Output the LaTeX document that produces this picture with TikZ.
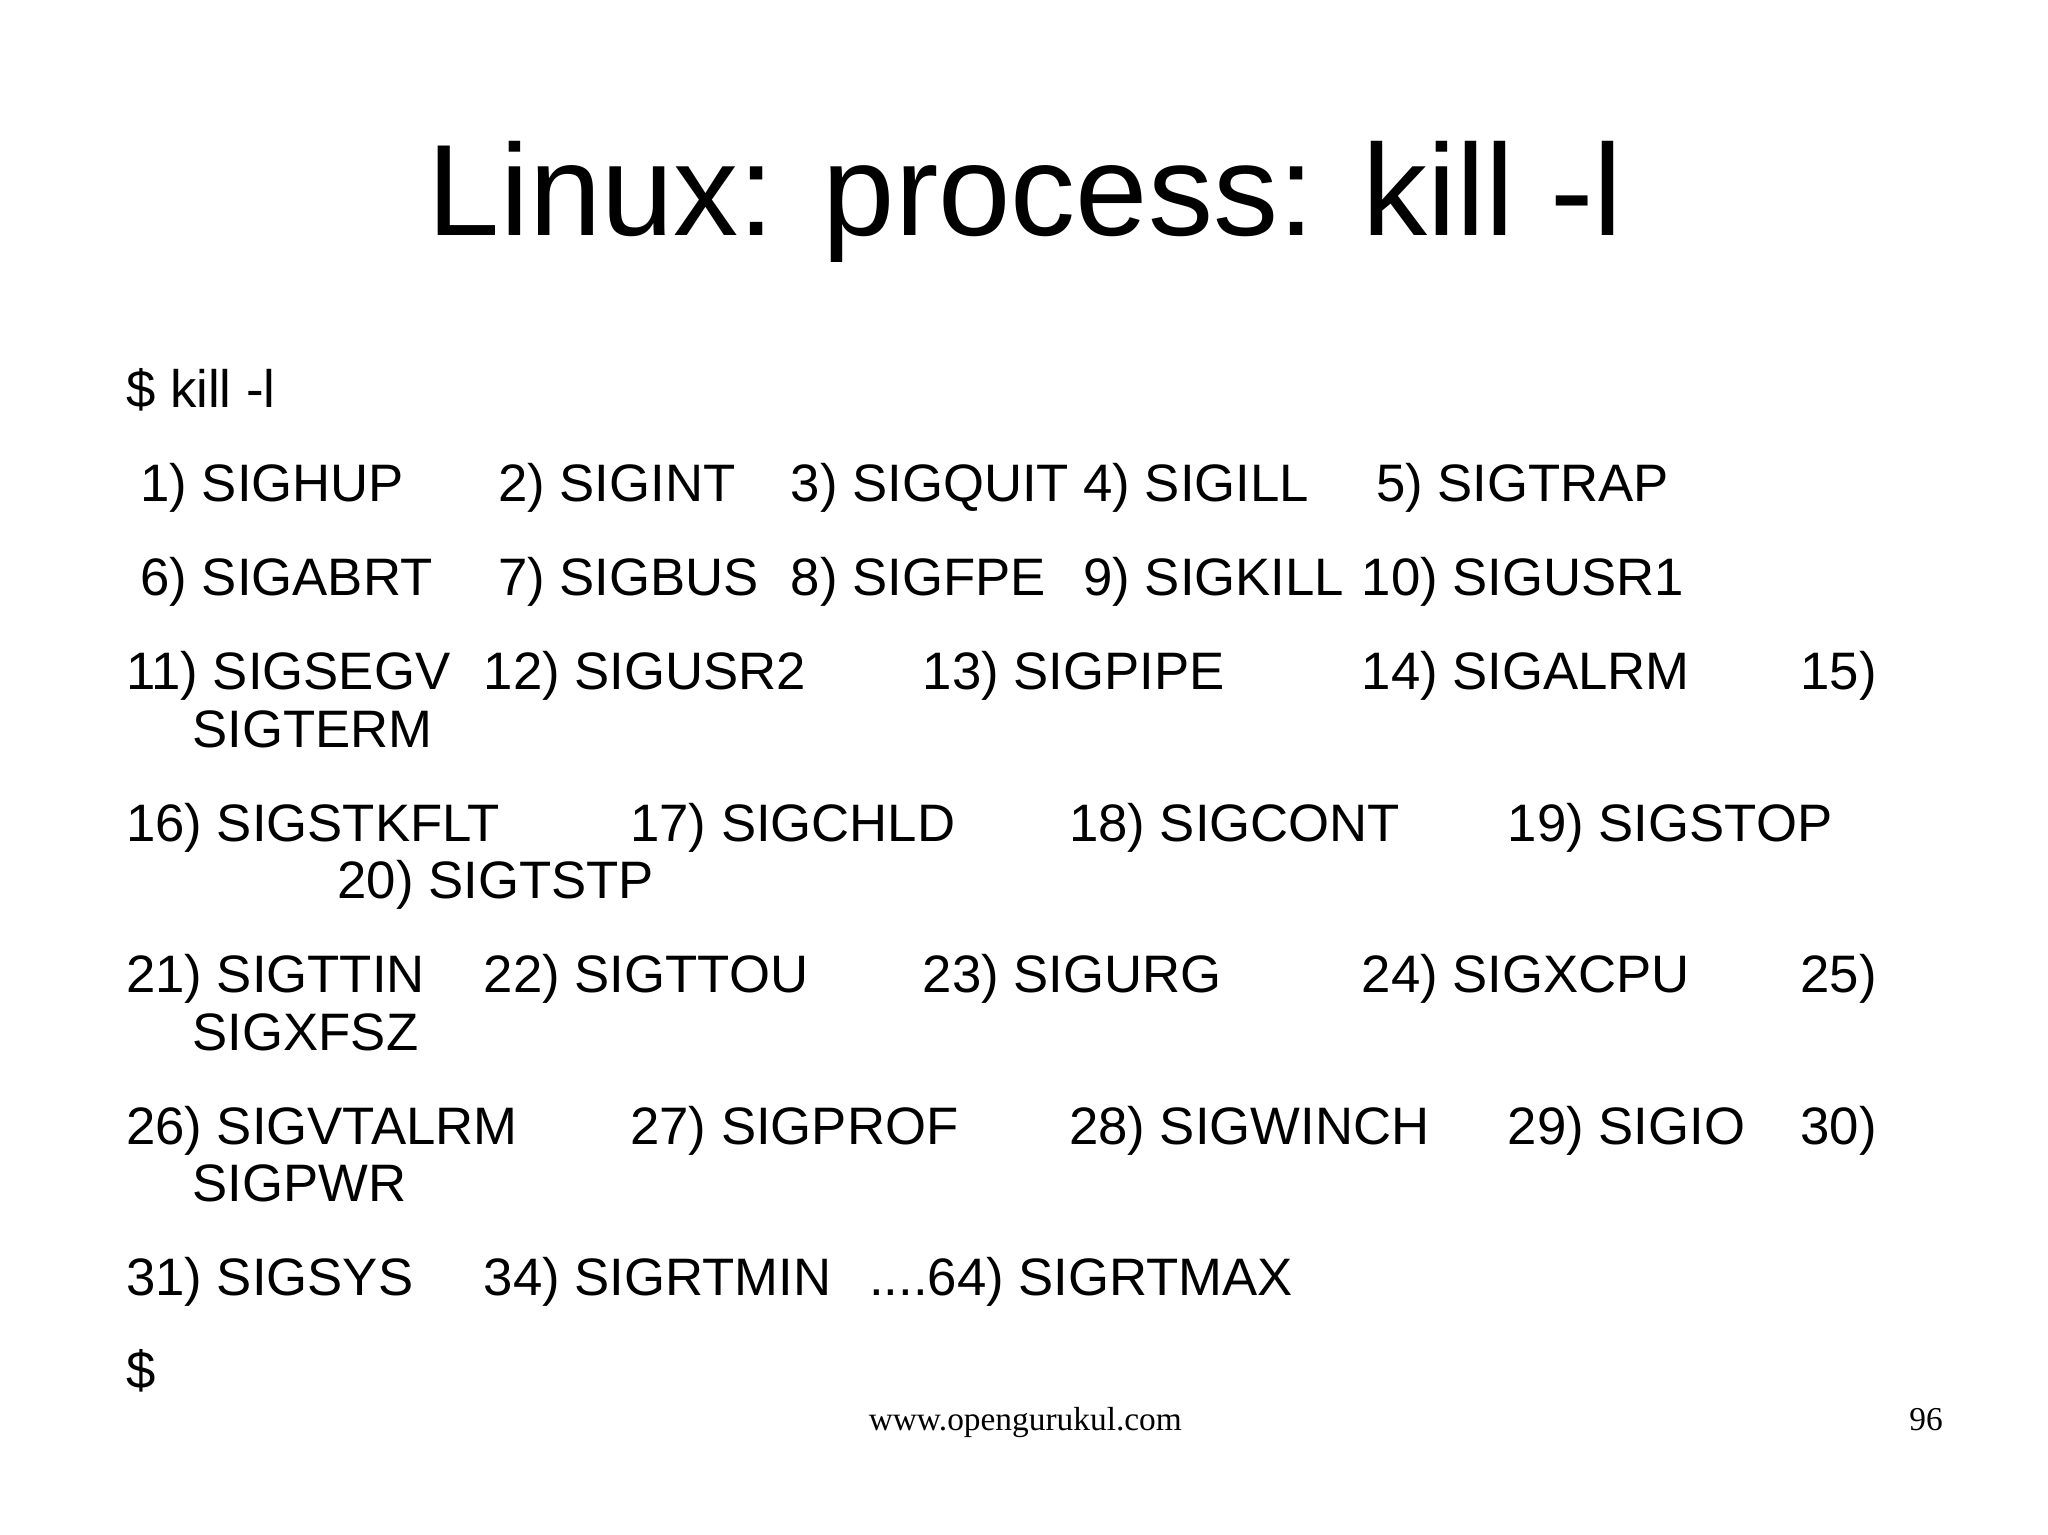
\documentclass[tikz,border=0pt]{standalone}
\usepackage{fontspec}
\setmainfont{Liberation Sans}
\newfontfamily\footfont{Liberation Serif}
\begin{document}
\begin{tikzpicture}[x=0.01306cm,y=-0.01306cm,
  tx/.style={anchor=base west,inner sep=0pt,font=\fontsize{15}{18}\selectfont},
  ttl/.style={anchor=base,inner sep=0pt,font=\fontsize{37}{44}\selectfont},
  ft/.style={inner sep=0pt,font=\footfont\fontsize{9.5}{11}\selectfont}]
\useasboundingbox[fill=white] (0,0) rectangle (1568,1175);
\node[ttl] (title) at (785,180) {Linux: process: kill -l};
\node[tx] (cmd) at (96,312) {\$ kill -l};
\foreach \x/\t [count=\i] in {107/1) SIGHUP,381/2) SIGINT,605/3) SIGQUIT,829/4) SIGILL,1053/5) SIGTRAP}
  \node[tx] (ra\i) at (\x,384) {\t};
\foreach \x/\t [count=\i] in {107/6) SIGABRT,381/7) SIGBUS,605/8) SIGFPE,829/9) SIGKILL,1042/10) SIGUSR1}
  \node[tx] (rb\i) at (\x,456) {\t};
\foreach \x/\t [count=\i] in {96/11) SIGSEGV,370/12) SIGUSR2,706/13) SIGPIPE,1042/14) SIGALRM,1378/15)}
  \node[tx] (rc\i) at (\x,528) {\t};
\node[tx] (rc6) at (147,572) {SIGTERM};
\foreach \x/\t [count=\i] in {96/16) SIGSTKFLT,482/17) SIGCHLD,818/18) SIGCONT,1154/19) SIGSTOP}
  \node[tx] (rd\i) at (\x,644) {\t};
\node[tx] (rd5) at (258,688) {20) SIGTSTP};
\foreach \x/\t [count=\i] in {96/21) SIGTTIN,370/22) SIGTTOU,706/23) SIGURG,1042/24) SIGXCPU,1378/25)}
  \node[tx] (re\i) at (\x,760) {\t};
\node[tx] (re6) at (147,804) {SIGXFSZ};
\foreach \x/\t [count=\i] in {96/26) SIGVTALRM,482/27) SIGPROF,818/28) SIGWINCH,1154/29) SIGIO,1378/30)}
  \node[tx] (rf\i) at (\x,876) {\t};
\node[tx] (rf6) at (147,920) {SIGPWR};
\node[tx] (rg1) at (96,992) {31) SIGSYS};
\node[tx] (rg2) at (370,992) {34) SIGRTMIN};
\node[tx] (rg3) at (665,992) {....64) SIGRTMAX};
\node[tx] (end) at (96,1063) {\$};
\node[ft,anchor=base] (url) at (785,1095) {www.opengurukul.com};
\node[ft,anchor=base east] (pg) at (1488,1095) {96};
\end{tikzpicture}
\end{document}
